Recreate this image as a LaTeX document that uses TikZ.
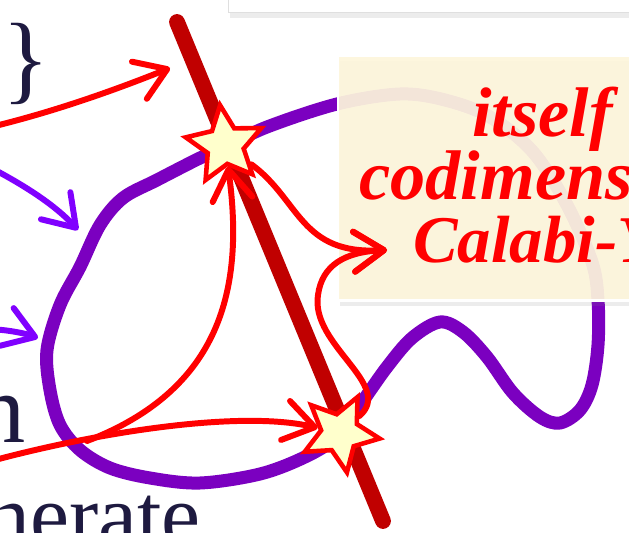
\documentclass[tikz,border=0pt]{standalone}
\usepackage{fontspec}
\setmainfont{Liberation Serif}
\usetikzlibrary{arrows.meta,shapes.geometric,shadows}
\definecolor{slideNavy}{HTML}{1E1A40}
\definecolor{penRed}{HTML}{FF0000}
\definecolor{penDark}{HTML}{C00000}
\definecolor{penPurple}{HTML}{7B00C0}
\definecolor{penViolet}{HTML}{8000FF}
\definecolor{noteCream}{HTML}{FDF5DC}
\definecolor{starFill}{HTML}{FFFFCC}
\tikzset{
  pen/.style={line width=3.4pt, line cap=round, line join=round,
    -{Straight Barb[length=6mm,width=8mm,round]}},
  burst/.style={star, star points=5, star point ratio=2.1, draw=penRed,
    fill=starFill, line width=2.6pt, minimum size=1.6cm, inner sep=0pt},
  slidetxt/.style={text=slideNavy, inner sep=0pt, font=\fontsize{56}{56}\selectfont},
  notetxt/.style={text=penRed, inner sep=0pt, anchor=base west,
    font=\fontsize{40}{36}\selectfont\bfseries\itshape}
}

\begin{document}
\begin{tikzpicture}[x=0.02cm, y=-0.02cm]
  \useasboundingbox (0,0) rectangle (629,533);
  \clip (0,0) rectangle (629,533);

  % purple loop, partly behind the note
  \draw[penPurple, line width=7.4pt, line cap=round, line join=round]
    plot[smooth cycle, tension=0.55] coordinates {
      (337,104) (267,127) (225,147) (200,158) (157,180) (123,198) (100,225)
      (80,267) (60,305) (47,350) (50,390) (60,425) (80,450) (110,468)
      (150,478) (200,483) (260,474) (305,457) (335,438) (360,405) (387,367)
      (412,338) (440,322) (463,332) (487,357) (513,393) (540,417) (560,423)
      (580,410) (592,385) (598,345) (598,300) (592,262) (567,205) (533,152)
      (490,117) (445,100) (400,94)};

  % slide boxes
  \node[draw=gray!25, fill=white, minimum width=8.64cm, minimum height=1.06cm,
        drop shadow={shadow xshift=1pt, shadow yshift=-3pt, opacity=0.15}]
        (slidebox) at (444,-14) {};
  \node[draw=white, line width=1.2pt, fill=noteCream, fill opacity=0.93,
        minimum width=6.44cm, minimum height=4.9cm,
        drop shadow={shadow xshift=1pt, shadow yshift=-3pt, opacity=0.15}]
        (note) at (499,178) {};
  \node[notetxt] (line1) at (472,137) {itself};
  \node[notetxt] (line2) at (359,200) {codimension};
  \node[notetxt, font=\fontsize{38}{36}\selectfont\bfseries\itshape] (line3) at (413,263) {Calabi-Yau};

  % slide text
  \node[slidetxt, anchor=base east] (brace) at (50,92) {0\}};
  \node[slidetxt, anchor=base east] (word1) at (26,442) {n};
  \node[slidetxt, anchor=base east, font=\fontsize{50}{50}\selectfont] (word2) at (201,545) {nerate};

  % the rod
  \coordinate (rodtop) at (177,22);
  \coordinate (rodend) at (383,521);
  \draw[penDark, line width=9pt, line cap=round] (rodtop) -- (rodend);

  % crossings
  \node[burst, rotate=7] (star1) at (225,145) {};
  \node[burst, rotate=-26] (star2) at (340,433) {};

  % free ends
  \coordinate (astart) at (-5,126);
  \coordinate (tipA) at (170,68);
  \coordinate (bstart) at (-5,460);
  \coordinate (cstart) at (87,441);
  \coordinate (tipD) at (387,250);
  \coordinate (v1start) at (-5,170);
  \coordinate (v1tip) at (78,230);
  \coordinate (v2start) at (-10,329);
  \coordinate (v2tip) at (38,338);

  % red pen
  \draw[pen, penRed] (astart) .. controls (60,110) and (120,88) .. (tipA);
  \draw[pen, penRed] (bstart) .. controls (100,432) and (240,410) .. (star2);
  \draw[pen, penRed] (cstart) .. controls (220,390) and (245,290) .. (star1);
  \draw[pen, penRed] (star1) .. controls (300,200) and (300,255) .. (tipD);
  \draw[pen, penRed] (star2) .. controls (395,385) and (310,345) .. (318,295)
    .. controls (322,265) and (345,252) .. (tipD);

  % violet pen
  \draw[pen, penViolet] (v1start) .. controls (25,186) and (55,205) .. (v1tip);
  \draw[pen, penViolet] (v2start) .. controls (8,330) and (24,333) .. (v2tip);
\end{tikzpicture}
\end{document}
